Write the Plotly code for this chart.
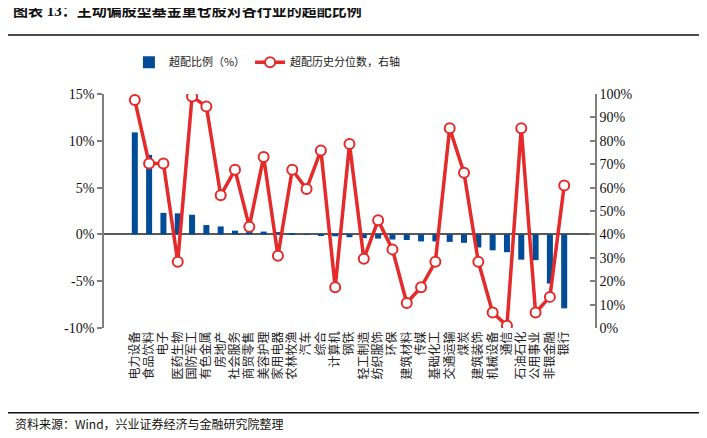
import plotly.graph_objects as go

# 行业
industries = [
    "电力设备", "食品饮料", "电子", "医药生物", "国防军工", "有色金属", "房地产",
    "社会服务", "商贸零售", "美容护理", "家用电器", "农林牧渔", "汽车", "综合",
    "计算机", "钢铁", "轻工制造", "纺织服饰", "环保", "建筑材料", "传媒",
    "基础化工", "交通运输", "煤炭", "建筑装饰", "机械设备", "通信", "石油石化",
    "公用事业", "非银金融", "银行",
]

# 超配比例（%）
overweight = [
    10.9, 8.5, 2.3, 2.25, 2.1, 1.0, 0.85, 0.4, 0.35, 0.3, 0.25, 0.05, -0.05,
    -0.1, -0.2, -0.3, -0.4, -0.45, -0.55, -0.6, -0.75, -0.75, -0.8, -0.9,
    -1.4, -1.7, -1.9, -2.7, -2.75, -5.25, -7.9,
]

# 超配历史分位数（%），右轴
percentile = [
    97.4, 70.3, 70.3, 28.3, 98.9, 94.7, 56.7, 67.6, 43.3, 73.1, 30.9, 67.6,
    59.4, 75.9, 17.4, 78.6, 29.6, 46.0, 33.6, 10.7, 17.4, 28.3, 85.4, 66.3,
    28.3, 6.6, 1.0, 85.4, 6.6, 13.3, 60.9,
]

left_ticks = [-10, -5, 0, 5, 10, 15]
right_ticks = list(range(0, 101, 10))

serif = "Liberation Serif, Noto Sans CJK SC"
cjk = "Noto Sans CJK SC"

fig = go.Figure()
fig.add_trace(go.Bar(
    x=industries, y=overweight, name="超配比例（%）",
    marker=dict(color="#004C97", line=dict(width=0)), width=0.42,
))
fig.add_trace(go.Scatter(
    x=industries, y=percentile, name="超配历史分位数，右轴", yaxis="y2",
    mode="lines+markers",
    line=dict(color="#E42A2A", width=3.5),
    marker=dict(size=10, color="white", line=dict(color="#E42A2A", width=2)),
))

# 页面自带 8px 边距，图本身缩小 8px 抵消
axis_col = "#7F7F7F"
fig.update_layout(
    width=699, height=430,
    margin=dict(l=96, r=112, t=86, b=110),
    paper_bgcolor="white", plot_bgcolor="white",
    showlegend=True,
    legend=dict(
        orientation="h", xref="container", yref="container",
        x=0.173, y=0.874, xanchor="left", yanchor="middle",
        font=dict(family=cjk, size=11, color="#222"), bgcolor="rgba(0,0,0,0)",
        itemwidth=30,
    ),
    xaxis=dict(
        tickangle=-90, tickfont=dict(family=cjk, size=12, color="#222"),
        showgrid=False, showline=False, ticks="", automargin=False,
    ),
    yaxis=dict(
        range=[-10, 15], tickvals=left_ticks,
        ticktext=[f"{v}%" for v in left_ticks],
        tickfont=dict(family=serif, size=14, color="#111"),
        showgrid=False, showline=True, linecolor=axis_col, linewidth=1.5,
        ticks="outside", ticklen=5, tickcolor=axis_col, tickwidth=1.5,
        zeroline=True, zerolinecolor="#595959", zerolinewidth=1.5,
        automargin=False,
    ),
    yaxis2=dict(
        range=[0, 100], tickvals=right_ticks,
        ticktext=[f"{v}%" for v in right_ticks],
        overlaying="y", side="right",
        tickfont=dict(family=serif, size=14, color="#111"),
        showgrid=False, showline=True, linecolor=axis_col, linewidth=1.5,
        ticks="inside", ticklen=5, tickcolor=axis_col, tickwidth=1.5,
        zeroline=False, automargin=False,
    ),
)

# 标题与来源
fig.add_annotation(
    text="<b>图表 13：主动偏股型基金重仓股对各行业的超配比例</b>",
    xref="paper", yref="paper", x=-0.19, y=1.31, xanchor="left", yanchor="bottom",
    showarrow=False, font=dict(family=serif, size=15, color="#111"),
)
fig.add_annotation(
    text="资料来源：Wind，兴业证券经济与金融研究院整理",
    xref="paper", yref="paper", x=-0.185, y=-0.408, xanchor="left", yanchor="middle",
    showarrow=False, font=dict(family=cjk, size=12, color="#111"),
)
# 标题下和来源上的横线
for yy in (1.252, -0.362):
    fig.add_shape(type="line", xref="paper", yref="paper",
                  x0=-0.206, x1=1.214, y0=yy, y1=yy,
                  line=dict(color="#111", width=1.5))

fig.write_html("out.html", config={"displayModeBar": False})
